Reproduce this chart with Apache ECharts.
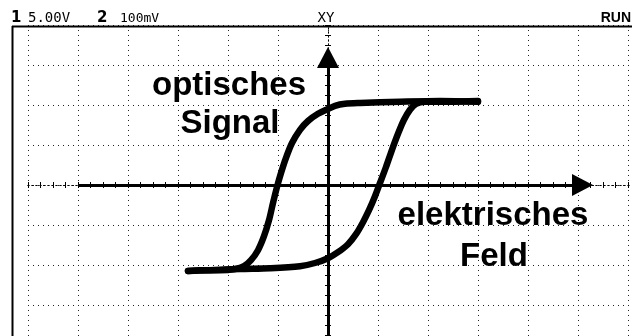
<!DOCTYPE html>
<html><head><meta charset="utf-8">
<script src="https://cdn.jsdelivr.net/npm/echarts@6/dist/echarts.min.js"></script>
<style>html,body{margin:0;padding:0;background:#fff}#c{width:632px;height:336px}</style>
</head><body><div id="c"></div>
<script>
// header readouts of the oscilloscope
const headerLabels = ['1', '5.00V', '2', '100mV', 'XY', 'RUN'];
// axis annotation lines
const yLabelLines = ['optisches', 'Signal'];
const xLabelLines = ['elektrisches', 'Feld'];
// hysteresis loop, in screen divisions (x: field, y: optical signal)
const descendingBranch = [
  [3.00, 2.08], [2.24, 2.10], [1.44, 2.08], [0.64, 2.05], [0.34, 2.03], [0.14, 1.98],
  [0.00, 1.90], [-0.20, 1.78], [-0.40, 1.60], [-0.56, 1.38], [-0.72, 1.05], [-0.84, 0.68],
  [-0.94, 0.30], [-1.02, -0.05], [-1.10, -0.45], [-1.18, -0.88], [-1.28, -1.28], [-1.40, -1.63],
  [-1.54, -1.88], [-1.68, -2.03], [-1.86, -2.10], [-2.16, -2.13], [-2.56, -2.13], [-2.80, -2.15]
];
const ascendingBranch = [
  [-2.80, -2.15], [-2.36, -2.13], [-1.76, -2.10], [-1.16, -2.08], [-0.56, -2.03], [-0.26, -1.95],
  [0.00, -1.83], [0.20, -1.68], [0.40, -1.48], [0.56, -1.23], [0.70, -0.93], [0.82, -0.63],
  [0.94, -0.28], [1.04, 0.05], [1.16, 0.45], [1.28, 0.88], [1.40, 1.28], [1.52, 1.63],
  [1.64, 1.88], [1.76, 2.03], [1.94, 2.08], [2.44, 2.08], [3.00, 2.10]
];
// graticule range in divisions
const xRange = [-6, 6.08];
const yRange = [-4, 4];

const chart = echarts.init(document.getElementById('c'), null, {renderer: 'canvas'});
const gridBox = {left: 28, right: 0, top: 25, bottom: -9, outerBoundsMode: 'none', containLabel: false};
function xAx(idx, inside, split) {
  return {
    type: 'value', gridIndex: idx, min: xRange[0], max: xRange[1], interval: 1,
    axisLine: {show: true, onZero: true, lineStyle: {color: '#000', width: 1, type: [1, 3]}},
    axisTick: {show: true, inside: inside, length: 3, lineStyle: {color: '#000', width: 1}},
    minorTick: {show: true, splitNumber: 4, length: 3, lineStyle: {color: '#000', width: 1}},
    axisLabel: {show: false},
    splitLine: {show: split, lineStyle: {color: '#222', width: 1, type: [1, 4]}},
    minorSplitLine: {show: false}
  };
}
function yAx(idx, inside, split) {
  return {
    type: 'value', gridIndex: idx, min: yRange[0], max: yRange[1], interval: 1,
    axisLine: {show: true, onZero: true, lineStyle: {color: '#000', width: 1, type: [1, 3]}},
    axisTick: {show: true, inside: inside, length: 3, lineStyle: {color: '#000', width: 1}},
    minorTick: {show: true, splitNumber: 4, length: 3, lineStyle: {color: '#000', width: 1}},
    axisLabel: {show: false},
    splitLine: {show: split, lineStyle: {color: '#222', width: 1, type: [1, 4]}},
    minorSplitLine: {show: false}
  };
}
const bigFont = 'bold 33px "Liberation Sans", Arial, sans-serif';
const monoFont = '14px "DejaVu Sans Mono", monospace';
const option = {
  animation: false,
  backgroundColor: '#fff',
  grid: [Object.assign({}, gridBox), Object.assign({}, gridBox)],
  xAxis: [xAx(0, false, true), xAx(1, true, false)],
  yAxis: [yAx(0, false, true), yAx(1, true, false)],
  series: [
    {
      type: 'line', xAxisIndex: 0, yAxisIndex: 0, data: [], z: 3,
      markLine: {
        silent: true, animation: false,
        symbol: ['none', 'triangle'], symbolSize: [22, 21],
        label: {show: false},
        lineStyle: {color: '#000', width: 3, type: 'solid'},
        itemStyle: {color: '#000'},
        data: [
          [{coord: [-5, 0]}, {coord: [5.09, 0]}],
          [{coord: [0, -4]}, {coord: [0, 3.19]}]
        ]
      }
    },
    {
      name: 'down', type: 'line', xAxisIndex: 0, yAxisIndex: 0, data: descendingBranch,
      showSymbol: false, smooth: 0.3, z: 5,
      lineStyle: {color: '#000', width: 6.5, cap: 'round', join: 'round'}
    },
    {
      name: 'up', type: 'line', xAxisIndex: 0, yAxisIndex: 0, data: ascendingBranch,
      showSymbol: false, smooth: 0.3, z: 5,
      lineStyle: {color: '#000', width: 6.5, cap: 'round', join: 'round'}
    }
  ],
  graphic: [
    {type: 'line', z: 50, shape: {x1: 12.5, y1: 26, x2: 12.5, y2: 336}, style: {stroke: '#000', lineWidth: 2}},
    {type: 'line', z: 50, shape: {x1: 12, y1: 26.5, x2: 632, y2: 26.5}, style: {stroke: '#000', lineWidth: 2}},
    {type: 'text', z: 60, x: 11, y: 18.5, style: {text: headerLabels[0], font: 'bold 15px "DejaVu Sans", sans-serif', fill: '#000', verticalAlign: 'middle'}},
    {type: 'text', z: 60, x: 28, y: 18.5, style: {text: headerLabels[1], font: monoFont, fill: '#000', verticalAlign: 'middle'}},
    {type: 'text', z: 60, x: 97, y: 18.5, style: {text: headerLabels[2], font: 'bold 15px "DejaVu Sans", sans-serif', fill: '#000', verticalAlign: 'middle'}},
    {type: 'text', z: 60, x: 120, y: 18.5, style: {text: headerLabels[3], font: '13px "DejaVu Sans Mono", monospace', fill: '#000', verticalAlign: 'middle'}},
    {type: 'text', z: 60, x: 326, y: 18.5, style: {text: headerLabels[4], font: monoFont, fill: '#000', align: 'center', verticalAlign: 'middle'}},
    {type: 'text', z: 60, x: 631, y: 18.5, style: {text: headerLabels[5], font: 'bold 14px "Liberation Sans", Arial, sans-serif', fill: '#000', align: 'right', verticalAlign: 'middle'}},
    {type: 'text', z: 60, x: 229, y: 85.5, style: {text: yLabelLines[0], font: bigFont, fill: '#000', align: 'center', verticalAlign: 'middle'}},
    {type: 'text', z: 60, x: 230, y: 123.5, style: {text: yLabelLines[1], font: bigFont, fill: '#000', align: 'center', verticalAlign: 'middle'}},
    {type: 'text', z: 60, x: 493, y: 215.5, style: {text: xLabelLines[0], font: bigFont, fill: '#000', align: 'center', verticalAlign: 'middle'}},
    {type: 'text', z: 60, x: 494, y: 256.5, style: {text: xLabelLines[1], font: bigFont, fill: '#000', align: 'center', verticalAlign: 'middle'}}
  ]
};
chart.setOption(option);
</script>
</body></html>
